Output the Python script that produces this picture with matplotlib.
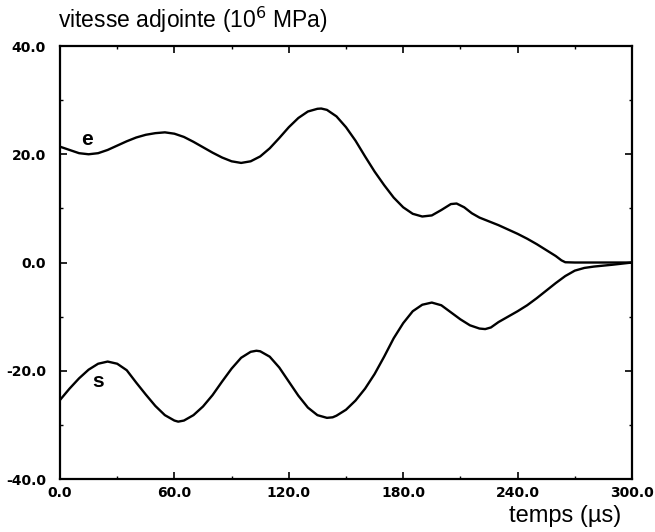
import matplotlib
matplotlib.use("Agg")
import matplotlib.pyplot as plt
from matplotlib.ticker import MultipleLocator

# temps (us) and adjoint velocity
t_e = [0, 5, 10, 15, 20, 25, 30, 35, 40, 45, 50, 55, 60, 65, 70, 75, 80, 85, 90, 95,
       100, 105, 110, 115, 120, 125, 130, 135, 137, 140, 145, 150, 155, 160, 165, 170,
       175, 180, 185, 190, 195, 200, 205, 208, 212, 216, 220, 225, 230, 235, 240, 245,
       250, 255, 260, 263, 265, 270, 300]
v_e = [21.4, 20.8, 20.2, 20.0, 20.2, 20.8, 21.6, 22.4, 23.1, 23.6, 23.9, 24.05, 23.8,
       23.2, 22.3, 21.3, 20.3, 19.4, 18.7, 18.4, 18.7, 19.6, 21.1, 23.0, 25.0, 26.7,
       27.9, 28.4, 28.45, 28.2, 27.0, 25.0, 22.5, 19.6, 16.8, 14.3, 12.0, 10.2, 9.0,
       8.5, 8.7, 9.7, 10.8, 10.9, 10.2, 9.1, 8.3, 7.6, 6.9, 6.1, 5.3, 4.4, 3.4, 2.3,
       1.2, 0.4, 0.05, 0.0, 0.0]

t_s = [0, 5, 10, 15, 20, 25, 30, 35, 40, 45, 50, 55, 60, 62, 65, 70, 75, 80, 85, 90,
       95, 100, 103, 105, 110, 115, 120, 125, 130, 135, 140, 143, 145, 150, 155, 160,
       165, 170, 175, 180, 185, 190, 195, 200, 205, 210, 215, 220, 223, 226, 230, 235,
       240, 245, 250, 255, 260, 265, 270, 275, 280, 290, 300]
v_s = [-25.4, -23.3, -21.4, -19.8, -18.7, -18.3, -18.7, -19.9, -22.2, -24.4, -26.5,
       -28.2, -29.2, -29.4, -29.2, -28.2, -26.6, -24.5, -22.0, -19.6, -17.6, -16.5,
       -16.3, -16.4, -17.4, -19.4, -22.0, -24.6, -26.8, -28.2, -28.7, -28.6, -28.3,
       -27.2, -25.5, -23.3, -20.6, -17.4, -14.0, -11.2, -9.0, -7.8, -7.4, -7.9, -9.2,
       -10.5, -11.6, -12.2, -12.3, -12.0, -11.0, -10.0, -9.0, -7.9, -6.6, -5.2, -3.8,
       -2.5, -1.5, -1.0, -0.75, -0.4, 0.0]

x_ticks = [0, 60, 120, 180, 240, 300]
y_ticks = [-40, -20, 0, 20, 40]

plt.rcParams['font.family'] = ['Liberation Sans', 'DejaVu Sans']

fig = plt.figure(figsize=(6.55, 5.32), dpi=100)
ax = fig.add_axes([0.0916, 0.0996, 0.8733, 0.8139])

ax.plot(t_e, v_e, color="black", linewidth=1.7, solid_joinstyle="round")
ax.plot(t_s, v_s, color="black", linewidth=1.7, solid_joinstyle="round")

ax.text(14, 22.8, "e", fontsize=15, fontweight="bold", ha="center", va="center")
ax.text(20, -21.9, "s", fontsize=15, fontweight="bold", ha="center", va="center")

ax.set_xlim(0, 300)
ax.set_ylim(-40, 40)
ax.set_xticks(x_ticks)
ax.set_yticks(y_ticks)
tick_font = dict(family="DejaVu Sans", fontweight="bold", fontsize=10)
ax.set_xticklabels([f"{v:.1f}" for v in x_ticks], **tick_font)
ax.set_yticklabels([f"{v:.1f}" for v in y_ticks], **tick_font)
ax.xaxis.set_minor_locator(MultipleLocator(30))
ax.yaxis.set_minor_locator(MultipleLocator(10))
ax.tick_params(which="both", direction="in", top=True, right=True)
ax.tick_params(which="major", length=5, width=1.2)
ax.tick_params(which="minor", length=2.5, width=1)
ax.tick_params(axis="x", pad=5)
ax.tick_params(axis="y", pad=10)
for sp in ax.spines.values():
    sp.set_linewidth(1.6)

fig.text(0.0885, 0.935, r"vitesse adjointe (10$^{6}$ MPa)", fontsize=16.5, ha="left", va="bottom")
fig.text(0.948, 0.01, "temps (µs)", fontsize=17, ha="right", va="bottom")

fig.savefig("out.png", dpi=100)
